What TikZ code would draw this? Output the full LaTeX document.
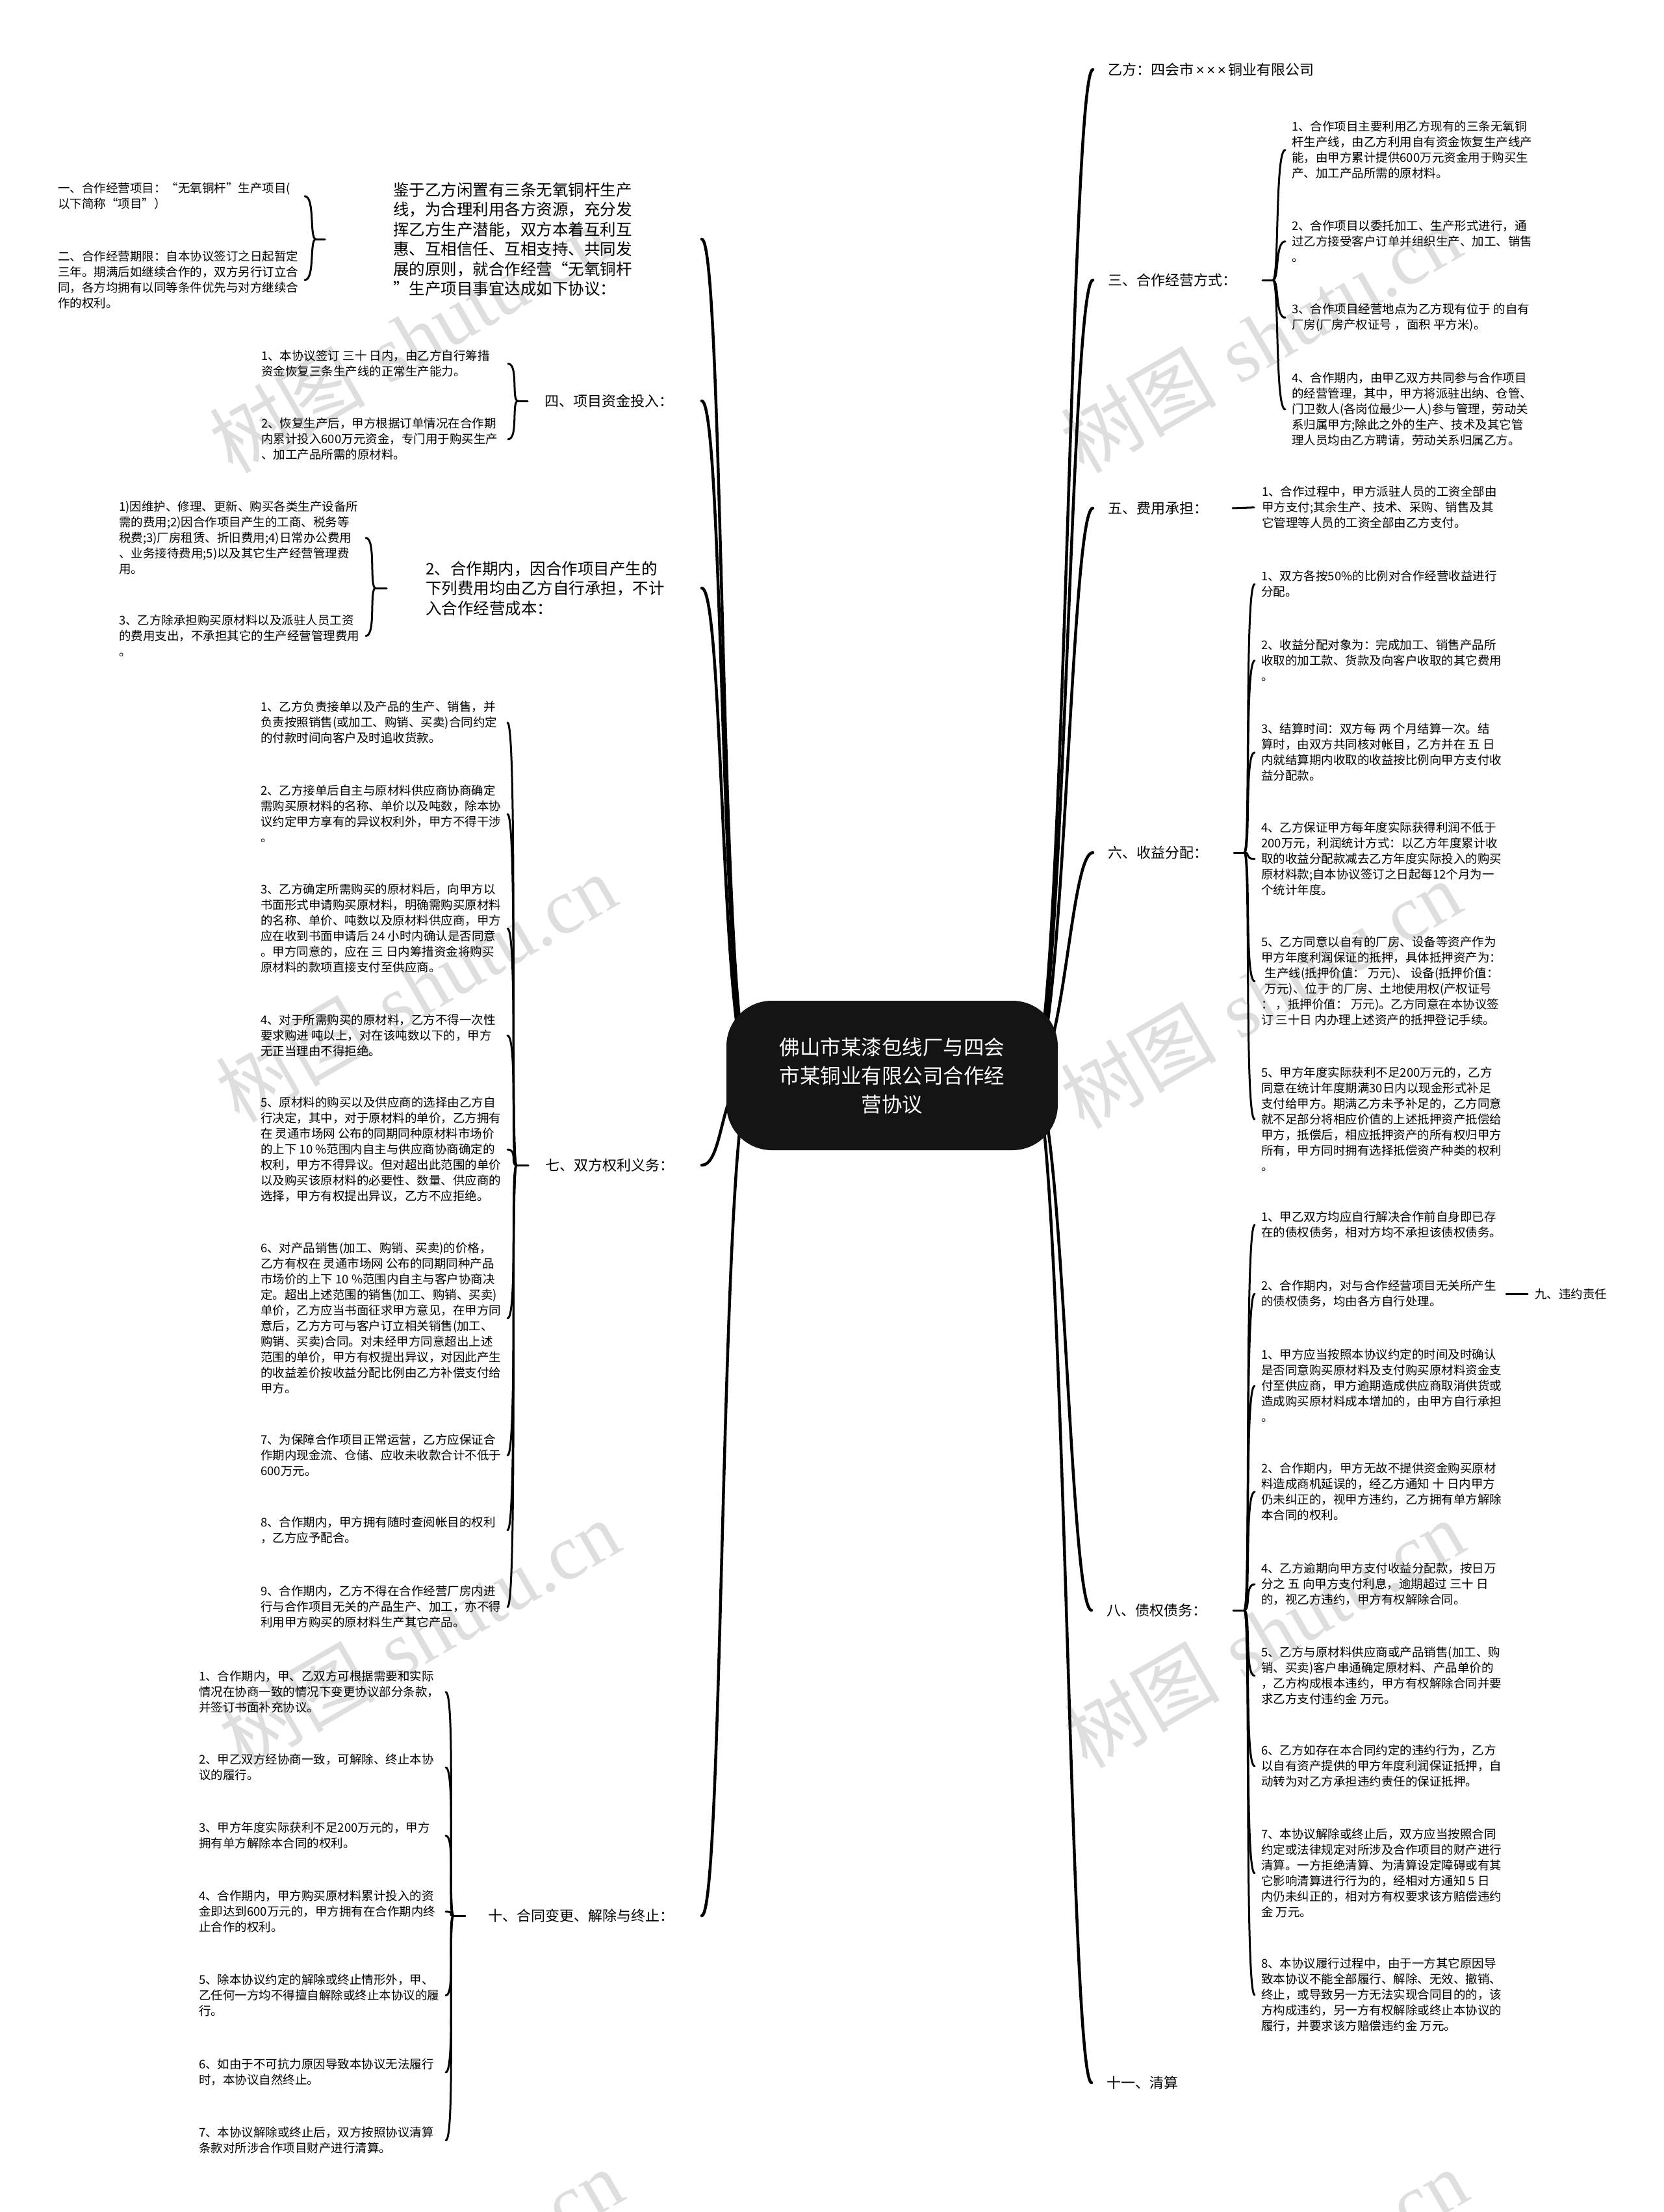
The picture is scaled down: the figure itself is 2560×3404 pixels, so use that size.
\documentclass[tikz,border=0pt]{standalone}
\usepackage{fontspec}
\setmainfont{Noto Sans CJK SC}
\newfontfamily\wmlatin{Liberation Serif}
\newfontfamily\latsans{Liberation Sans}
\usetikzlibrary{calc}
\pgfdeclarelayer{wm}
\pgfdeclarelayer{bg}
\pgfsetlayers{wm,bg,main}
\tikzset{
  itemR/.style={anchor=north west, inner sep=0pt, align=left, font=\fontsize{18.5}{24}\selectfont},
  lab/.style={inner sep=0pt, font=\fontsize{22}{26}\selectfont},
  big/.style={anchor=north west, inner sep=0pt, align=left, font=\fontsize{24.5}{30.5}\selectfont},
  mainline/.style={line width=4.5pt, line cap=round},
  brline/.style={line width=3pt, line cap=round},
  wmark/.style={text=black!13, rotate=30, inner sep=0pt, font=\fontsize{120}{120}\selectfont},
  centre/.style={fill=black!92, text=white, rounded corners=70pt, minimum width=510pt, minimum height=230pt, align=center, font=\fontsize{31.5}{44}\selectfont}
}
\newcommand\rcurve[2]{\draw[brline] (#1) .. controls ([xshift=10pt]#1) and ([xshift=-26pt]#2.west) .. ([xshift=-10pt]#2.west);}
\newcommand\lcurve[2]{\draw[brline] (#1) .. controls ([xshift=-10pt]#1) and ([xshift=396pt]#2.west) .. ([xshift=380pt]#2.west);}
\newcommand\rmain[1]{\draw[mainline] (cR) .. controls ([xshift=50pt]cR) and ([xshift=-58pt]#1.west) .. ([xshift=-23pt]#1.west);}
\newcommand\lmain[1]{\draw[mainline] (cL) .. controls ([xshift=-50pt]cL) and ([xshift=35pt]#1) .. (#1);}
\begin{document}
\begin{tikzpicture}[x=1pt,y=-1pt]
\useasboundingbox (0,0) rectangle (2560,3404);
\begin{pgfonlayer}{wm}
\fill[white] (0,0) rectangle (2560,3404);
\clip (0,0) rectangle (2560,3404);
\foreach \wx/\wy [count=\i] in {630/521, 1940/521, 640/1520, 1940/1530, 645/2514, 1945/2514, 650/3513, 1950/3513}
  \node[wmark] (wm\i) at (\wx,\wy) {树图\hspace{0.3em}{\wmlatin shutu.cn}};
\end{pgfonlayer}

% centre
\node[centre] (cn) at (1373,1655) {佛山市某漆包线厂与四会\\市某铜业有限公司合作经\\营协议};
\coordinate (cR) at ([xshift=215pt]cn.center);
\coordinate (cL) at ([xshift=-215pt]cn.center);

% right main labels
\node[lab, anchor=west] (nY) at (1705,107) {乙方：四会市{\latsans\,×\,×\,×\,}铜业有限公司};
\node[lab, anchor=west] (n3) at (1705,431) {三、合作经营方式：};
\node[lab, anchor=west] (n5) at (1705,782) {五、费用承担：};
\node[lab, anchor=west] (n6) at (1705,1312) {六、收益分配：};
\node[lab, anchor=west] (n8) at (1703,2478) {八、债权债务：};
\node[lab, anchor=west] (n11) at (1703,3205) {十一、清算};

% left main labels
\node[big] (nJ) at (605,280.5) {鉴于乙方闲置有三条无氧铜杆生产\\线，为合理利用各方资源，充分发\\挥乙方生产潜能，双方本着互利互\\惠、互相信任、互相支持、共同发\\展的原则，就合作经营“无氧铜杆\\”生产项目事宜达成如下协议：};
\node[lab, anchor=east] (n4) at (1037,617) {四、项目资金投入：};
\node[big] (nC) at (655,863.5) {2、合作期内，因合作项目产生的\\下列费用均由乙方自行承担，不计\\入合作经营成本：};
\node[lab, anchor=east] (n7) at (1038,1793) {七、双方权利义务：};
\node[lab, anchor=east] (n10) at (1038,2948) {十、合同变更、解除与终止：};

% right children
\node[itemR] (r3a) at (1988,186) {1、合作项目主要利用乙方现有的三条无氧铜\\杆生产线，由乙方利用自有资金恢复生产线产\\能，由甲方累计提供600万元资金用于购买生\\产、加工产品所需的原材料。};
\node[itemR] (r3b) at (1988,339) {2、合作项目以委托加工、生产形式进行，通\\过乙方接受客户订单并组织生产、加工、销售\\。};
\node[itemR] (r3c) at (1988,467) {3、合作项目经营地点为乙方现有位于 的自有\\厂房(厂房产权证号 ，面积 平方米)。};
\node[itemR] (r3d) at (1988,573) {4、合作期内，由甲乙双方共同参与合作项目\\的经营管理，其中，甲方将派驻出纳、仓管、\\门卫数人(各岗位最少一人)参与管理，劳动关\\系归属甲方;除此之外的生产、技术及其它管\\理人员均由乙方聘请，劳动关系归属乙方。};
\node[itemR] (r5a) at (1942,748) {1、合作过程中，甲方派驻人员的工资全部由\\甲方支付;其余生产、技术、采购、销售及其\\它管理等人员的工资全部由乙方支付。};
\node[itemR] (r6a) at (1941,878) {1、双方各按50\%的比例对合作经营收益进行\\分配。};
\node[itemR] (r6b) at (1941,984) {2、收益分配对象为：完成加工、销售产品所\\收取的加工款、货款及向客户收取的其它费用\\。};
\node[itemR] (r6c) at (1941,1113) {3、结算时间：双方每 两 个月结算一次。结\\算时，由双方共同核对帐目，乙方并在 五 日\\内就结算期内收取的收益按比例向甲方支付收\\益分配款。};
\node[itemR] (r6d) at (1941,1265) {4、乙方保证甲方每年度实际获得利润不低于\\200万元，利润统计方式：以乙方年度累计收\\取的收益分配款减去乙方年度实际投入的购买\\原材料款;自本协议签订之日起每12个月为一\\个统计年度。};
\node[itemR] (r6e) at (1941,1441) {5、乙方同意以自有的厂房、设备等资产作为\\甲方年度利润保证的抵押，具体抵押资产为：\\\hspace*{0.3em}生产线(抵押价值：  万元)、 设备(抵押价值：\\\hspace*{0.3em}万元)、位于 的厂房、土地使用权(产权证号\\：  ，抵押价值：  万元)。乙方同意在本协议签\\订 三十日 内办理上述资产的抵押登记手续。};
\node[itemR] (r6f) at (1941,1642) {5、甲方年度实际获利不足200万元的，乙方\\同意在统计年度期满30日内以现金形式补足\\支付给甲方。期满乙方未予补足的，乙方同意\\就不足部分将相应价值的上述抵押资产抵偿给\\甲方，抵偿后，相应抵押资产的所有权归甲方\\所有，甲方同时拥有选择抵偿资产种类的权利\\。};
\node[itemR] (r8a) at (1941,1864) {1、甲乙双方均应自行解决合作前自身即已存\\在的债权债务，相对方均不承担该债权债务。};
\node[itemR] (r8b) at (1941,1970) {2、合作期内，对与合作经营项目无关所产生\\的债权债务，均由各方自行处理。};
\node[itemR] (r8c) at (1941,2076) {1、甲方应当按照本协议约定的时间及时确认\\是否同意购买原材料及支付购买原材料资金支\\付至供应商，甲方逾期造成供应商取消供货或\\造成购买原材料成本增加的，由甲方自行承担\\。};
\node[itemR] (r8d) at (1941,2251) {2、合作期内，甲方无故不提供资金购买原材\\料造成商机延误的，经乙方通知 十 日内甲方\\仍未纠正的，视甲方违约，乙方拥有单方解除\\本合同的权利。};
\node[itemR] (r8e) at (1941,2405) {4、乙方逾期向甲方支付收益分配款，按日万\\分之 五 向甲方支付利息，逾期超过 三十 日\\的，视乙方违约，甲方有权解除合同。};
\node[itemR] (r8f) at (1941,2534) {5、乙方与原材料供应商或产品销售(加工、购\\销、买卖)客户串通确定原材料、产品单价的\\，乙方构成根本违约，甲方有权解除合同并要\\求乙方支付违约金 万元。};
\node[itemR] (r8g) at (1941,2685) {6、乙方如存在本合同约定的违约行为，乙方\\以自有资产提供的甲方年度利润保证抵押，自\\动转为对乙方承担违约责任的保证抵押。};
\node[itemR] (r8h) at (1941,2814) {7、本协议解除或终止后，双方应当按照合同\\约定或法律规定对所涉及合作项目的财产进行\\清算。一方拒绝清算、为清算设定障碍或有其\\它影响清算进行行为的，经相对方通知 5 日\\内仍未纠正的，相对方有权要求该方赔偿违约\\金 万元。};
\node[itemR] (r8i) at (1941,3013) {8、本协议履行过程中，由于一方其它原因导\\致本协议不能全部履行、解除、无效、撤销、\\终止，或导致另一方无法实现合同目的的，该\\方构成违约，另一方有权解除或终止本协议的\\履行，并要求该方赔偿违约金 万元。};
\node[itemR, anchor=west] (n9) at (2362,1991) {九、违约责任};

% left children
\node[itemR] (lA1) at (89,281) {一、合作经营项目：“无氧铜杆”生产项目(\\以下简称“项目”）};
\node[itemR] (lA2) at (89,386) {二、合作经营期限：自本协议签订之日起暂定\\三年。期满后如继续合作的，双方另行订立合\\同，各方均拥有以同等条件优先与对方继续合\\作的权利。};
\node[itemR] (l4a) at (402,539) {1、本协议签订 三十 日内，由乙方自行筹措\\资金恢复三条生产线的正常生产能力。};
\node[itemR] (l4b) at (402,643) {2、恢复生产后，甲方根据订单情况在合作期\\内累计投入600万元资金，专门用于购买生产\\、加工产品所需的原材料。};
\node[itemR] (lCa) at (183,771) {1)因维护、修理、更新、购买各类生产设备所\\需的费用;2)因合作项目产生的工商、税务等\\税费;3)厂房租赁、折旧费用;4)日常办公费用\\、业务接待费用;5)以及其它生产经营管理费\\用。};
\node[itemR] (lCb) at (183,946) {3、乙方除承担购买原材料以及派驻人员工资\\的费用支出，不承担其它的生产经营管理费用\\。};
\node[itemR] (l7a) at (401,1079) {1、乙方负责接单以及产品的生产、销售，并\\负责按照销售(或加工、购销、买卖)合同约定\\的付款时间向客户及时追收货款。};
\node[itemR] (l7b) at (401,1208) {2、乙方接单后自主与原材料供应商协商确定\\需购买原材料的名称、单价以及吨数，除本协\\议约定甲方享有的异议权利外，甲方不得干涉\\。};
\node[itemR] (l7c) at (401,1360) {3、乙方确定所需购买的原材料后，向甲方以\\书面形式申请购买原材料，明确需购买原材料\\的名称、单价、吨数以及原材料供应商，甲方\\应在收到书面申请后 24 小时内确认是否同意\\。甲方同意的，应在 三 日内筹措资金将购买\\原材料的款项直接支付至供应商。};
\node[itemR] (l7d) at (401,1561) {4、对于所需购买的原材料，乙方不得一次性\\要求购进 吨以上，对在该吨数以下的，甲方\\无正当理由不得拒绝。};
\node[itemR] (l7e) at (401,1688) {5、原材料的购买以及供应商的选择由乙方自\\行决定，其中，对于原材料的单价，乙方拥有\\在 灵通市场网 公布的同期同种原材料市场价\\的上下 10 \%范围内自主与供应商协商确定的\\权利，甲方不得异议。但对超出此范围的单价\\以及购买该原材料的必要性、数量、供应商的\\选择，甲方有权提出异议，乙方不应拒绝。};
\node[itemR] (l7f) at (401,1912) {6、对产品销售(加工、购销、买卖)的价格，\\乙方有权在 灵通市场网 公布的同期同种产品\\市场价的上下 10 \%范围内自主与客户协商决\\定。超出上述范围的销售(加工、购销、买卖)\\单价，乙方应当书面征求甲方意见，在甲方同\\意后，乙方方可与客户订立相关销售(加工、\\购销、买卖)合同。对未经甲方同意超出上述\\范围的单价，甲方有权提出异议，对因此产生\\的收益差价按收益分配比例由乙方补偿支付给\\甲方。};
\node[itemR] (l7g) at (401,2207) {7、为保障合作项目正常运营，乙方应保证合\\作期内现金流、仓储、应收未收款合计不低于\\600万元。};
\node[itemR] (l7h) at (401,2334) {8、合作期内，甲方拥有随时查阅帐目的权利\\，乙方应予配合。};
\node[itemR] (l7i) at (401,2440) {9、合作期内，乙方不得在合作经营厂房内进\\行与合作项目无关的产品生产、加工，亦不得\\利用甲方购买的原材料生产其它产品。};
\node[itemR] (l10a) at (306,2571) {1、合作期内，甲、乙双方可根据需要和实际\\情况在协商一致的情况下变更协议部分条款，\\并签订书面补充协议。};
\node[itemR] (l10b) at (306,2699) {2、甲乙双方经协商一致，可解除、终止本协\\议的履行。};
\node[itemR] (l10c) at (306,2804) {3、甲方年度实际获利不足200万元的，甲方\\拥有单方解除本合同的权利。};
\node[itemR] (l10d) at (306,2909) {4、合作期内，甲方购买原材料累计投入的资\\金即达到600万元的，甲方拥有在合作期内终\\止合作的权利。};
\node[itemR] (l10e) at (306,3038) {5、除本协议约定的解除或终止情形外，甲、\\乙任何一方均不得擅自解除或终止本协议的履\\行。};
\node[itemR] (l10f) at (306,3168) {6、如由于不可抗力原因导致本协议无法履行\\时，本协议自然终止。};
\node[itemR] (l10g) at (306,3273) {7、本协议解除或终止后，双方按照协议清算\\条款对所涉合作项目财产进行清算。};

% stub coordinates
\coordinate (eJ) at (1080,368);
\coordinate (e4) at (1080,617);
\coordinate (eC) at (1080,905);
\coordinate (e7) at (1080,1793);
\coordinate (e10) at (1080,2948);
\coordinate (s3a) at (1943,431); \coordinate (s3) at (1959,431);
\coordinate (s5) at (1897,782);
\coordinate (s6a) at (1899,1312); \coordinate (s6) at (1915,1312);
\coordinate (s8a) at (1898,2478); \coordinate (s8) at (1915,2478);
\coordinate (sAa) at (500,368); \coordinate (sA) at (486,368);
\coordinate (s4a) at (812,617); \coordinate (s4) at (797,617);
\coordinate (sCa) at (595,905); \coordinate (sC) at (578,905);
\coordinate (s7a) at (813,1793); \coordinate (s7) at (795,1793);
\coordinate (s10a) at (716,2948); \coordinate (s10) at (698,2948);

\begin{pgfonlayer}{bg}
\rmain{nY}\rmain{n3}\rmain{n5}\rmain{n6}\rmain{n8}\rmain{n11}
\lmain{eJ}\lmain{e4}\lmain{eC}\lmain{e7}\lmain{e10}
\end{pgfonlayer}

% right brackets
\draw[brline] (s3a) -- (s3);
\rcurve{s3}{r3a}\rcurve{s3}{r3b}\rcurve{s3}{r3c}\rcurve{s3}{r3d}
\draw[brline] (s5) -- ([xshift=-12pt]r5a.west);
\draw[brline] (s6a) -- (s6);
\rcurve{s6}{r6a}\rcurve{s6}{r6b}\rcurve{s6}{r6c}\rcurve{s6}{r6d}\rcurve{s6}{r6e}\rcurve{s6}{r6f}
\draw[brline] (s8a) -- (s8);
\rcurve{s8}{r8a}\rcurve{s8}{r8b}\rcurve{s8}{r8c}\rcurve{s8}{r8d}\rcurve{s8}{r8e}\rcurve{s8}{r8f}\rcurve{s8}{r8g}\rcurve{s8}{r8h}\rcurve{s8}{r8i}
\draw[brline] ([xshift=-44pt]n9.west) -- ([xshift=-11pt]n9.west);

% left brackets
\draw[brline] (sAa) -- (sA);
\lcurve{sA}{lA1}\lcurve{sA}{lA2}
\draw[brline] (s4a) -- (s4);
\lcurve{s4}{l4a}\lcurve{s4}{l4b}
\draw[brline] (sCa) -- (sC);
\lcurve{sC}{lCa}\lcurve{sC}{lCb}
\draw[brline] (s7a) -- (s7);
\lcurve{s7}{l7a}\lcurve{s7}{l7b}\lcurve{s7}{l7c}\lcurve{s7}{l7d}\lcurve{s7}{l7e}\lcurve{s7}{l7f}\lcurve{s7}{l7g}\lcurve{s7}{l7h}\lcurve{s7}{l7i}
\draw[brline] (s10a) -- (s10);
\lcurve{s10}{l10a}\lcurve{s10}{l10b}\lcurve{s10}{l10c}\lcurve{s10}{l10d}\lcurve{s10}{l10e}\lcurve{s10}{l10f}\lcurve{s10}{l10g}
\end{tikzpicture}
\end{document}
